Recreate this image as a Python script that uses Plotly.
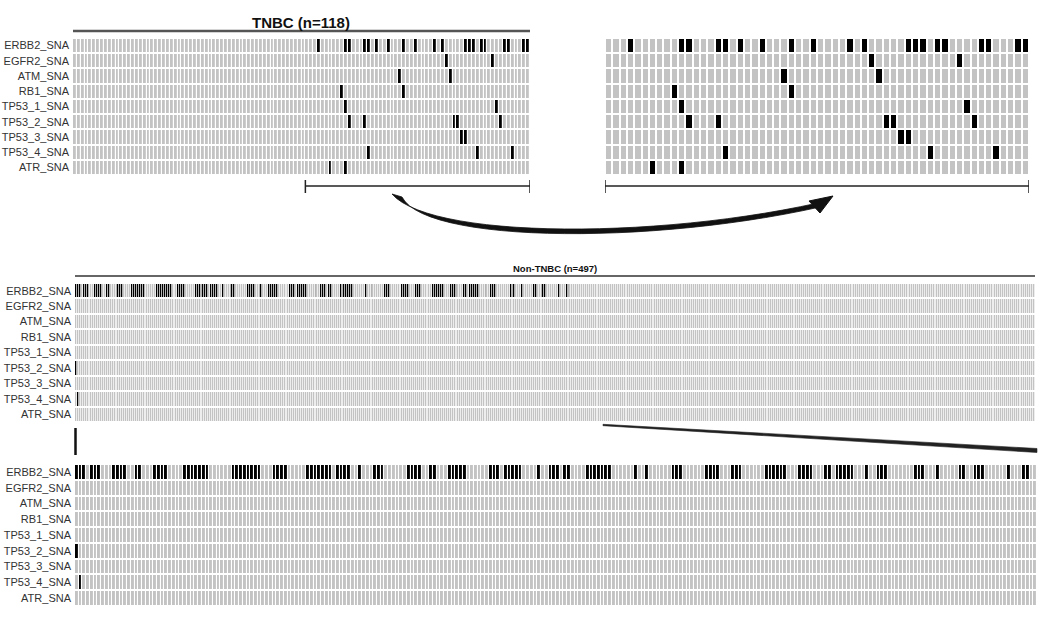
import numpy as np
import plotly.graph_objects as go

W, H = 1049, 621

genes = ["ERBB2_SNA", "EGFR2_SNA", "ATM_SNA", "RB1_SNA", "TP53_1_SNA",
         "TP53_2_SNA", "TP53_3_SNA", "TP53_4_SNA", "ATR_SNA"]

# ---- TNBC cohort (n=118): mutated sample columns per gene ----
tnbc_n = 118
tnbc_zoom_first = 60          # first column shown in the zoomed TNBC panel
tnbc_erbb2 = [63, 70, 71, 75, 76, 78, 81, 85, 88, 93, 95, 101, 102, 103, 105, 106, 111, 112, 116, 117]
tnbc_egfr2 = [96, 108]
tnbc_atm = [84, 97]
tnbc_rb1 = [69, 85]
tnbc_tp53_1 = [70, 109]
tnbc_tp53_2 = [71, 75, 98, 99, 110]
tnbc_tp53_3 = [100, 101]
tnbc_tp53_4 = [76, 104, 113]
tnbc_atr = [66, 70]

# ---- Non-TNBC cohort (n=497) ----
non_n = 497
non_zoom_n = 258              # columns shown in the zoomed Non-TNBC panel
non_erbb2 = [0, 1, 2, 4, 5, 6, 10, 11, 12, 13, 16, 17, 21, 22, 23, 24,
             29, 30, 31, 32, 33, 34, 35, 42, 43, 44, 45, 46, 47, 48, 49,
             53, 54, 55, 56, 62, 63, 64, 65, 66, 67, 68, 70, 71, 72, 73, 76,
             80, 81, 82, 89, 90, 91, 92, 95, 96, 100, 101, 102, 103, 104,
             111, 112, 113, 115, 116, 117, 118, 119, 124, 127, 128, 129, 131, 132,
             137, 138, 139, 140, 141, 142, 143, 150, 153, 160, 161, 162,
             169, 170, 171, 172, 176, 177, 178, 185, 186, 187, 188, 189, 190,
             194, 195, 196, 197, 201, 202, 204, 205, 206, 207, 208, 212,
             215, 216, 217, 225, 226, 227, 231, 237, 238, 241, 242, 243, 250, 254, 255]
non_egfr2 = []
non_atm = []
non_rb1 = []
non_tp53_1 = []
non_tp53_2 = [0]
non_tp53_3 = []
non_tp53_4 = [1]
non_atr = []


def build(n, lists):
    z = np.zeros((len(genes), n))
    for i, cols in enumerate(lists):
        for c in cols:
            z[i, c] = 1
    return z


tnbc_z = build(tnbc_n, [tnbc_erbb2, tnbc_egfr2, tnbc_atm, tnbc_rb1, tnbc_tp53_1,
                        tnbc_tp53_2, tnbc_tp53_3, tnbc_tp53_4, tnbc_atr])
non_z = build(non_n, [non_erbb2, non_egfr2, non_atm, non_rb1, non_tp53_1,
                      non_tp53_2, non_tp53_3, non_tp53_4, non_atr])

GREY = "#c3c3c3"
cs = [[0, GREY], [1, "#000000"]]
LABEL_FONT = dict(family="Liberation Sans, Arial", size=11, color="#333333")


def px_x(x):
    return x / W


def px_y(y):
    return 1 - y / H


fig = go.Figure()

panels = [
    # (x, z, xaxis, yaxis, xgap, ygap)
    (list(range(tnbc_n)), tnbc_z, "x", "y", 1.2, 2),
    (list(range(tnbc_zoom_first, tnbc_n)), tnbc_z[:, tnbc_zoom_first:], "x2", "y2", 2, 2),
    (list(range(non_n)), non_z, "x3", "y3", 0.7, 2),
    (list(range(non_zoom_n)), non_z[:, :non_zoom_n], "x4", "y4", 1.1, 2),
]
for xs, z, xa, ya, xg, yg in panels:
    fig.add_trace(go.Heatmap(x=xs, y=genes, z=z, colorscale=cs, zmin=0, zmax=1,
                             showscale=False, xgap=xg, ygap=yg, xaxis=xa, yaxis=ya,
                             hoverinfo="skip"))

xdom = {
    "xaxis": [px_x(73), px_x(530)],
    "xaxis2": [px_x(605), px_x(1029)],
    "xaxis3": [px_x(75), px_x(1035)],
    "xaxis4": [px_x(75), px_x(1037)],
}
ydom = {
    "yaxis": [px_y(175), px_y(38)],
    "yaxis2": [px_y(175), px_y(38)],
    "yaxis3": [px_y(422), px_y(283)],
    "yaxis4": [px_y(606), px_y(464)],
}
xr = {
    "xaxis": [-0.5, tnbc_n - 0.5],
    "xaxis2": [tnbc_zoom_first - 0.5, tnbc_n - 0.5],
    "xaxis3": [-0.5, non_n - 0.5],
    "xaxis4": [-0.5, non_zoom_n - 0.5],
}
lay = {}
for i, k in enumerate(["", "2", "3", "4"]):
    xk, yk = "xaxis" + k, "yaxis" + k
    lay[xk] = dict(domain=xdom[xk], range=xr[xk], showticklabels=False, showgrid=False,
                   zeroline=False, ticks="", anchor="y" + k, fixedrange=True)
    lay[yk] = dict(domain=ydom[yk], type="category", autorange="reversed",
                   showticklabels=(k != "2"), tickfont=LABEL_FONT, ticks="",
                   showgrid=False, zeroline=False, anchor="x" + k, fixedrange=True,
                   ticklabelstandoff=3)

shapes = []
# header rules
shapes.append(dict(type="line", xref="x", yref="paper", x0=-0.5, x1=tnbc_n - 0.5,
                   y0=px_y(31), y1=px_y(31), line=dict(color="#555555", width=2.5)))
shapes.append(dict(type="line", xref="x3", yref="paper", x0=-0.5, x1=non_n - 0.5,
                   y0=px_y(276), y1=px_y(276), line=dict(color="#666666", width=2)))
# brackets under TNBC panels
for xref, a, b in [("x", tnbc_zoom_first - 0.5, tnbc_n - 0.5),
                   ("x2", tnbc_zoom_first - 0.5, tnbc_n - 0.5)]:
    shapes.append(dict(type="line", xref=xref, yref="paper", x0=a, x1=b,
                       y0=px_y(186), y1=px_y(186), line=dict(color="#222222", width=1.5)))
    for xv in (a, b):
        shapes.append(dict(type="line", xref=xref, yref="paper", x0=xv, x1=xv,
                           y0=px_y(180), y1=px_y(193), line=dict(color="#222222", width=1.5)))


def path(pts, close=True):
    s = "M " + " L ".join(f"{px_x(x):.5f},{px_y(y):.5f}" for x, y in pts)
    return s + (" Z" if close else "")


def bez(p0, c1, c2, p1, n=30):
    t = np.linspace(0, 1, n)[:, None]
    p0, c1, c2, p1 = map(np.array, (p0, c1, c2, p1))
    return ((1 - t) ** 3 * p0 + 3 * (1 - t) ** 2 * t * c1 + 3 * (1 - t) * t ** 2 * c2 + t ** 3 * p1).tolist()


upper = bez((392, 194), (430, 238), (650, 240), (818, 203))
lower = bez((820, 207), (650, 245), (425, 243), (402, 197))
shapes.append(dict(type="path", xref="paper", yref="paper", path=path(upper + lower),
                   fillcolor="#111111", line=dict(color="#111111", width=0.8)))
shapes.append(dict(type="path", xref="paper", yref="paper",
                   path=path([(833, 196), (809, 201), (820, 213)]),
                   fillcolor="#111111", line=dict(color="#111111", width=1)))

# trapezoid linking Non-TNBC panels
shapes.append(dict(type="line", xref="paper", yref="paper", x0=px_x(75.5), x1=px_x(75.5),
                   y0=px_y(428), y1=px_y(455), line=dict(color="#111111", width=2.5)))
shapes.append(dict(type="path", xref="paper", yref="paper",
                   path=path([(603, 424.3), (1037, 448.5), (1037, 452.5), (603, 425.7)]),
                   fillcolor="#222222", line=dict(color="#222222", width=0.6)))

annotations = [
    dict(text="<b>TNBC (n=118)</b>", x=px_x(301), y=px_y(22), xref="paper", yref="paper",
         xanchor="center", yanchor="middle", showarrow=False,
         font=dict(family="Liberation Sans, Arial", size=15, color="#111111")),
    dict(text="<b>Non-TNBC (n=497)</b>", x=px_x(555), y=px_y(269), xref="paper", yref="paper",
         xanchor="center", yanchor="middle", showarrow=False,
         font=dict(family="Liberation Sans, Arial", size=9.5, color="#111111")),
]

fig.update_layout(width=W, height=H, margin=dict(l=0, r=0, t=0, b=0),
                  paper_bgcolor="white", plot_bgcolor="white", showlegend=False,
                  shapes=shapes, annotations=annotations, **lay)

fig.write_html("out.html")
